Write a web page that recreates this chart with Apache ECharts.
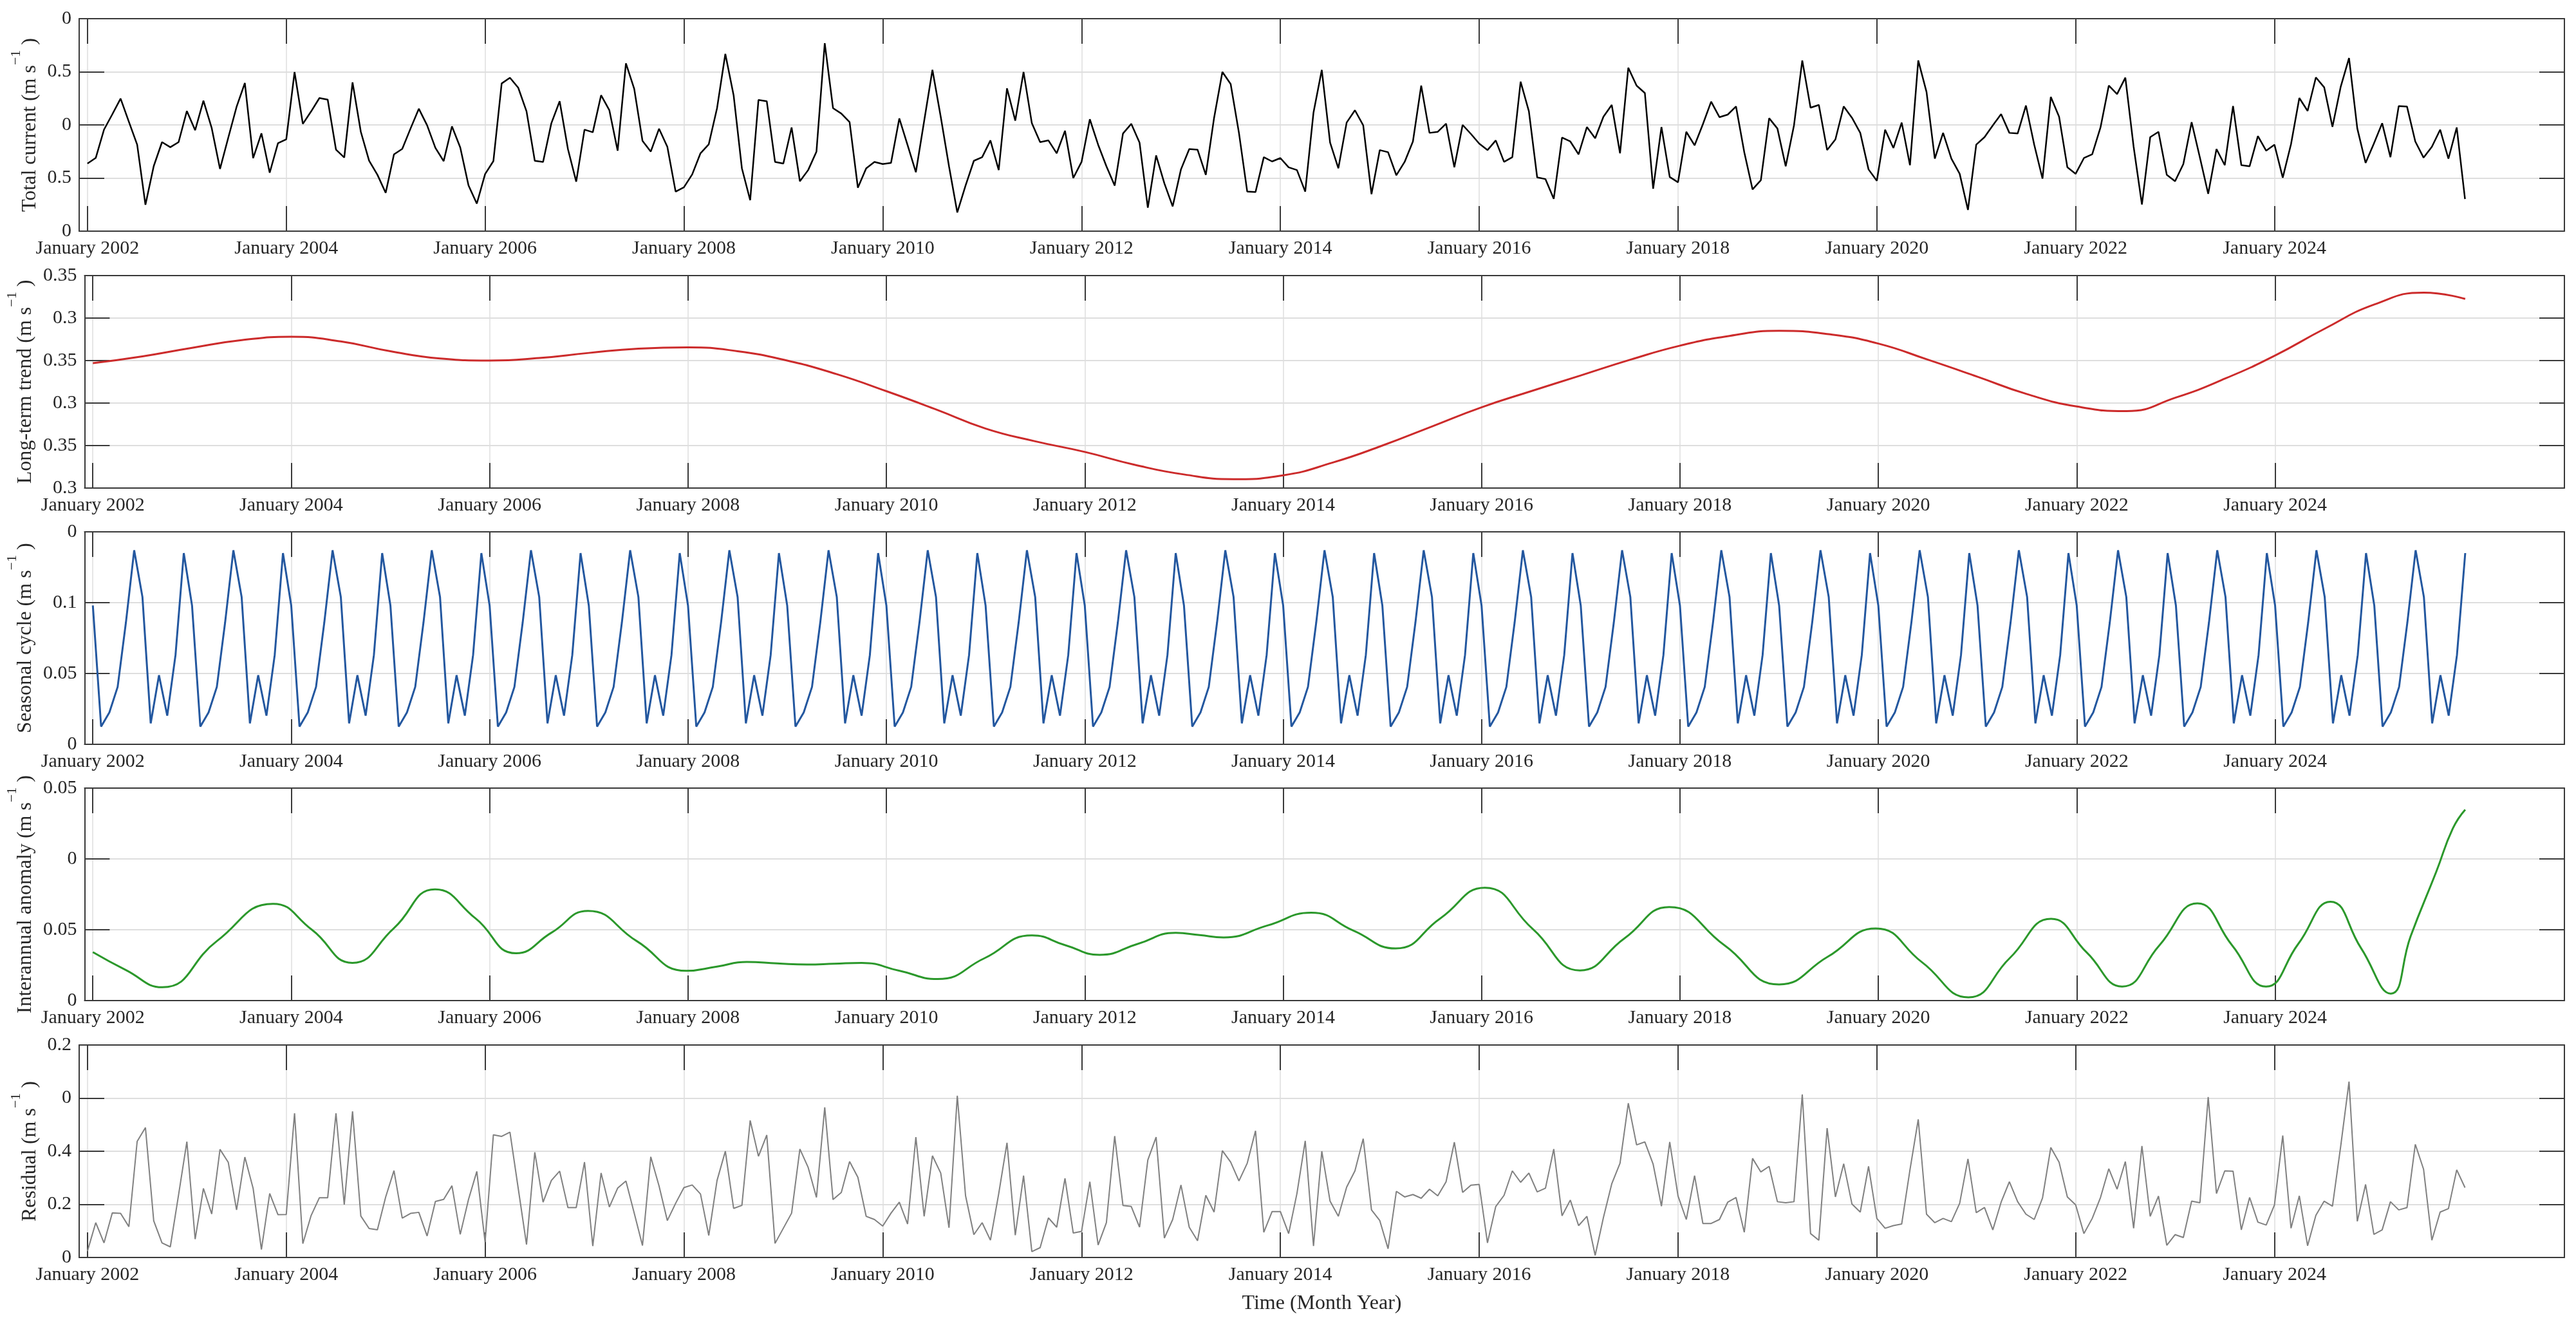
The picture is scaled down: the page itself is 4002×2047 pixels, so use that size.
<!DOCTYPE html>
<html>
<head>
<meta charset="utf-8">
<title>Current decomposition</title>
<script src="https://cdn.jsdelivr.net/npm/echarts@6.0.0/dist/echarts.min.js"></script>
<style>
  html, body { margin: 0; padding: 0; background: #fff; }
  #main { width: 4002px; height: 2047px; }
</style>
</head>
<body>
<div id="main"></div>
<script>
// x is a month index: 0 = January 2002, 287 = December 2025
var xTickMonths = [0, 24, 48, 72, 96, 120, 144, 168, 192, 216, 240, 264];
var xTickLabels = ['January 2002', 'January 2004', 'January 2006', 'January 2008', 'January 2010', 'January 2012',
                   'January 2014', 'January 2016', 'January 2018', 'January 2020', 'January 2022', 'January 2024'];

// y tick labels, bottom to top, as printed on the figure
var totalTicks = ['0', '0.5', '0', '0.5', '0'];
var trendTicks = ['0.3', '0.35', '0.3', '0.35', '0.3', '0.35'];
var seasonTicks = ['0', '0.05', '0.1', '0'];
var anomTicks = ['0', '0.05', '0', '0.05'];
var residTicks = ['0', '0.2', '0.4', '0', '0.2'];

// total current, monthly
var totalCurrent = [
  -0.364, -0.311, -0.044, 0.10, 0.248, 0.03, -0.186, -0.752, -0.388, -0.162, -0.21, -0.162,
  0.131, -0.05, 0.228, -0.03, -0.414, -0.12, 0.17, 0.394, -0.313, -0.079, -0.45, -0.172,
  -0.135, 0.497, 0.01, 0.127, 0.253, 0.238, -0.232, -0.307, 0.40, -0.065, -0.337, -0.469,
  -0.64, -0.277, -0.226, -0.034, 0.152, -0.004, -0.216, -0.341, -0.014, -0.212, -0.57, -0.741,
  -0.463, -0.341, 0.39, 0.444, 0.35, 0.128, -0.338, -0.348, 0.016, 0.223, -0.227, -0.534,
  -0.045, -0.069, 0.279, 0.138, -0.243, 0.579, 0.34, -0.15, -0.251, -0.036, -0.206, -0.628,
  -0.587, -0.466, -0.267, -0.182, 0.158, 0.668, 0.279, -0.409, -0.709, 0.235, 0.223, -0.348,
  -0.364, -0.024, -0.53, -0.425, -0.251, 0.769, 0.158, 0.107, 0.026, -0.591, -0.409, -0.348,
  -0.368, -0.358, 0.061, -0.19, -0.445, 0.036, 0.518, 0.077, -0.389, -0.824, -0.571, -0.338,
  -0.304, -0.146, -0.425, 0.344, 0.04, 0.498, 0.016, -0.162, -0.146, -0.267, -0.055, -0.5,
  -0.348, 0.053, -0.186, -0.389, -0.571, -0.081, 0.01, -0.166, -0.779, -0.287, -0.551, -0.767,
  -0.419, -0.227, -0.233, -0.47, 0.067, 0.498, 0.385, -0.075, -0.628, -0.632, -0.304, -0.344,
  -0.312, -0.399, -0.425, -0.628, 0.117, 0.518, -0.166, -0.408, 0.022, 0.138, -0.004, -0.652,
  -0.237, -0.257, -0.474, -0.348, -0.156, 0.37, -0.075, -0.065, 0.012, -0.399, 0, -0.085,
  -0.176, -0.237, -0.146, -0.348, -0.304, 0.407, 0.128, -0.494, -0.51, -0.696, -0.119, -0.156,
  -0.277, -0.02, -0.126, 0.077, 0.188, -0.267, 0.538, 0.37, 0.3, -0.601, -0.02, -0.49,
  -0.54, -0.065, -0.192, 0.006, 0.219, 0.073, 0.097, 0.174, -0.257, -0.607, -0.52, 0.063,
  -0.034, -0.389, -0.004, 0.607, 0.162, 0.188, -0.237, -0.136, 0.174, 0.067, -0.075, -0.419,
  -0.526, -0.045, -0.217, 0.022, -0.379, 0.607, 0.31, -0.318, -0.075, -0.318, -0.46, -0.8,
  -0.186, -0.115, -0.004, 0.101, -0.075, -0.081, 0.182, -0.186, -0.506, 0.263, 0.077, -0.399,
  -0.46, -0.312, -0.277, -0.024, 0.37, 0.29, 0.445, -0.206, -0.749, -0.115, -0.065, -0.47,
  -0.53, -0.368, 0.026, -0.308, -0.648, -0.227, -0.379, 0.178, -0.379, -0.389, -0.105, -0.243,
  -0.186, -0.496, -0.18, 0.253, 0.132, 0.447, 0.354, -0.018, 0.36, 0.63, -0.034, -0.358,
  -0.176, 0.016, -0.304, 0.178, 0.172, -0.156, -0.308, -0.206, -0.045, -0.318, -0.024, -0.698
];

// long-term trend, read every six months
var trendMonths = [0, 6, 12, 18, 24, 30, 36, 42, 48, 54, 60, 66, 72, 78, 84, 90, 96, 102, 108, 114,
                   120, 126, 132, 138, 144, 150, 156, 162, 168, 174, 180, 186, 192, 198, 204, 210,
                   216, 222, 228, 234, 240, 246, 252, 258, 264, 270, 276, 282, 287];
var trendValues = [0.3294, 0.3310, 0.3330, 0.3348, 0.3356, 0.3345, 0.3322, 0.3305, 0.3300, 0.3306,
                   0.3318, 0.3328, 0.3331, 0.3322, 0.3300, 0.3268, 0.3228, 0.3185, 0.3140, 0.3110,
                   0.3085, 0.3055, 0.3032, 0.3021, 0.3030, 0.3060, 0.3100, 0.3145, 0.3190, 0.3228,
                   0.3265, 0.3302, 0.3335, 0.3358, 0.3370, 0.3362, 0.3340, 0.3302, 0.3262, 0.3221,
                   0.3192, 0.3181, 0.3213, 0.3258, 0.3312, 0.3375, 0.3432, 0.3460, 0.3445];

// seasonal cycle: the same twelve monthly values every year
var seasonMonthly = [0.098, 0.0125, 0.0225, 0.0405, 0.086, 0.137, 0.104, 0.0148, 0.0488, 0.0202, 0.063, 0.135];
var seasonYears = 24;

// interannual anomaly, read at turning points and between them
var anomMonths = [0, 4, 8.4, 15, 21.8, 26.5, 31.4, 36.4, 41.4, 46.3, 51.2, 55.5, 59.9, 65.8, 71.8, 75.5,
                  79.1, 82.8, 86.4, 89.7, 93, 97.6, 102.2, 107.9, 113.6, 117.7, 121.8, 126.4, 131, 133.9,
                  136.8, 142.1, 147.4, 152.5, 157.6, 163, 168.4, 174.2, 179.9, 185.3, 190.7, 197.4, 204,
                  209.9, 215.7, 221.3, 226.9, 231.9, 236.9, 241.2, 245.5, 250, 254.6, 258.8, 262.9, 266.8,
                  270.7, 274.4, 278, 280.4, 283.5, 285.5, 287];
var anomValues = [-0.0658, -0.0785, -0.0906, -0.058, -0.0317, -0.050, -0.0734, -0.049, -0.0215, -0.042,
                  -0.0666, -0.052, -0.0367, -0.058, -0.079, -0.076, -0.0727, -0.0738, -0.0746, -0.074,
                  -0.0734, -0.079, -0.0848, -0.070, -0.054, -0.061, -0.0677, -0.060, -0.0522, -0.0538,
                  -0.0554, -0.047, -0.038, -0.0506, -0.0632, -0.042, -0.0203, -0.0495, -0.0787, -0.056,
                  -0.034, -0.061, -0.0886, -0.069, -0.0491, -0.073, -0.0977, -0.070, -0.0423, -0.066,
                  -0.0901, -0.061, -0.0314, -0.061, -0.0901, -0.060, -0.0302, -0.063, -0.0951, -0.0545,
                  -0.009, 0.0215, 0.0348];

// residual, monthly
var residual = [
  0.024, 0.131, 0.055, 0.168, 0.166, 0.116, 0.437, 0.489, 0.138, 0.055, 0.04, 0.236,
  0.436, 0.069, 0.26, 0.164, 0.407, 0.358, 0.179, 0.378, 0.26, 0.03, 0.241, 0.161,
  0.162, 0.543, 0.052, 0.158, 0.225, 0.225, 0.543, 0.199, 0.55, 0.156, 0.109, 0.104,
  0.228, 0.327, 0.148, 0.166, 0.17, 0.081, 0.211, 0.219, 0.27, 0.087, 0.219, 0.324,
  0.058, 0.462, 0.456, 0.472, 0.26, 0.049, 0.396, 0.208, 0.29, 0.325, 0.188, 0.188,
  0.359, 0.043, 0.318, 0.19, 0.261, 0.288, 0.167, 0.045, 0.379, 0.269, 0.139, 0.204,
  0.263, 0.273, 0.239, 0.083, 0.29, 0.4, 0.185, 0.196, 0.516, 0.381, 0.461, 0.053,
  0.11, 0.167, 0.408, 0.339, 0.226, 0.565, 0.218, 0.245, 0.361, 0.302, 0.155, 0.143,
  0.118, 0.167, 0.208, 0.126, 0.453, 0.155, 0.383, 0.318, 0.112, 0.609, 0.232, 0.086,
  0.131, 0.065, 0.24, 0.432, 0.084, 0.308, 0.022, 0.037, 0.149, 0.114, 0.298, 0.092,
  0.098, 0.285, 0.047, 0.131, 0.457, 0.196, 0.192, 0.114, 0.367, 0.453, 0.073, 0.143,
  0.273, 0.114, 0.063, 0.234, 0.171, 0.402, 0.359, 0.288, 0.355, 0.477, 0.095, 0.173,
  0.173, 0.09, 0.241, 0.439, 0.043, 0.4, 0.212, 0.155, 0.265, 0.326, 0.447, 0.179,
  0.139, 0.033, 0.249, 0.228, 0.237, 0.223, 0.257, 0.232, 0.285, 0.434, 0.245, 0.272,
  0.275, 0.055, 0.192, 0.234, 0.326, 0.283, 0.318, 0.247, 0.261, 0.408, 0.157, 0.216,
  0.12, 0.155, 0.008, 0.151, 0.277, 0.355, 0.581, 0.424, 0.435, 0.351, 0.193, 0.435,
  0.232, 0.143, 0.308, 0.128, 0.128, 0.143, 0.208, 0.226, 0.095, 0.373, 0.322, 0.343,
  0.21, 0.206, 0.21, 0.614, 0.09, 0.065, 0.487, 0.228, 0.353, 0.201, 0.171, 0.343,
  0.147, 0.11, 0.12, 0.126, 0.33, 0.52, 0.163, 0.131, 0.147, 0.135, 0.204, 0.371,
  0.169, 0.188, 0.104, 0.208, 0.285, 0.21, 0.163, 0.143, 0.224, 0.414, 0.359, 0.228,
  0.198, 0.09, 0.147, 0.226, 0.334, 0.257, 0.361, 0.11, 0.42, 0.155, 0.231, 0.046,
  0.086, 0.075, 0.212, 0.206, 0.604, 0.241, 0.326, 0.325, 0.104, 0.226, 0.133, 0.122,
  0.198, 0.459, 0.11, 0.232, 0.044, 0.159, 0.212, 0.193, 0.42, 0.662, 0.136, 0.275,
  0.087, 0.104, 0.21, 0.179, 0.188, 0.426, 0.332, 0.065, 0.171, 0.184, 0.33, 0.263
];

var FONT = "'Liberation Serif', 'Times New Roman', serif";
var INK = '#262626';
var BOX = '#3a3a3a';
var GRIDC = '#dedede';

function monthly(arr) {
  return arr.map(function (v, i) { return [i, v]; });
}
function pairs(xs, ys) {
  return xs.map(function (x, i) { return [x, ys[i]]; });
}
var seasonData = [];
for (var y = 0; y < seasonYears; y++) {
  for (var m = 0; m < 12; m++) seasonData.push([y * 12 + m, seasonMonthly[m]]);
}

var panels = [
  { title: 'Total current (m s', ticks: totalTicks, min: -1, max: 1, step: 0.5, gap: 44,
    data: monthly(totalCurrent), color: '#000000', width: 2.5, smooth: false },
  { title: 'Long-term trend (m s', ticks: trendTicks, min: 0.30, max: 0.35, step: 0.01, gap: 59,
    data: pairs(trendMonths, trendValues), color: '#cc2b2b', width: 3, smooth: true },
  { title: 'Seasonal cycle (m s', ticks: seasonTicks, min: 0, max: 0.15, step: 0.05, gap: 59,
    data: seasonData, color: '#23579f', width: 3, smooth: false },
  { title: 'Interannual anomaly (m s', ticks: anomTicks, min: -0.1, max: 0.05, step: 0.05, gap: 59,
    data: pairs(anomMonths, anomValues), color: '#2b982b', width: 3, smooth: true },
  { title: 'Residual (m s', ticks: residTicks, min: 0, max: 0.8, step: 0.2, gap: 44,
    data: monthly(residual), color: '#808080', width: 2, smooth: false }
];
var tops = [29, 428, 826, 1224, 1623];

var grids = [], xAxes = [], yAxes = [], series = [];
panels.forEach(function (p, i) {
  grids.push({ left: 123, right: 18, top: tops[i], height: 330 });
  var tickStyle = { color: BOX, width: 2 };
  var lineStyle = { color: BOX, width: 2 };
  var last = i === panels.length - 1;

  xAxes.push({
    type: 'value', gridIndex: i, position: 'bottom', min: -1, max: 299,
    axisLine: { show: true, onZero: false, lineStyle: lineStyle },
    axisTick: { show: true, inside: true, length: 39, customValues: xTickMonths, lineStyle: tickStyle },
    axisLabel: {
      show: true, customValues: xTickMonths, margin: 12, fontSize: 30, color: INK, fontFamily: FONT,
      formatter: function (v) { return xTickLabels[xTickMonths.indexOf(v)]; }
    },
    splitLine: { show: true, lineStyle: { color: GRIDC, width: 1.5 } },
    name: last ? 'Time (Month Year)' : '',
    nameLocation: 'middle', nameGap: 56,
    nameTextStyle: { fontSize: 32, color: INK, fontFamily: FONT }
  });
  xAxes.push({
    type: 'value', gridIndex: i, position: 'top', min: -1, max: 299,
    axisLine: { show: true, onZero: false, lineStyle: lineStyle },
    axisTick: { show: true, inside: true, length: 39, customValues: xTickMonths, lineStyle: tickStyle },
    axisLabel: { show: false },
    splitLine: { show: false }
  });

  var labels = p.ticks;
  yAxes.push({
    type: 'value', gridIndex: i, position: 'left', min: p.min, max: p.max, interval: p.step,
    axisLine: { show: true, onZero: false, lineStyle: lineStyle },
    axisTick: { show: true, inside: true, length: 39, lineStyle: tickStyle },
    axisLabel: {
      show: true, margin: 12, fontSize: 30, color: INK, fontFamily: FONT,
      formatter: function (v) { return labels[Math.round((v - p.min) / p.step)]; }
    },
    splitLine: { show: true, lineStyle: { color: GRIDC, width: 2 } },
    name: '{a|' + p.title + '}{b|\u22121}{a| )}',
    nameLocation: 'middle', nameGap: p.gap,
    nameTextStyle: {
      rich: {
        a: { fontSize: 32, color: INK, fontFamily: FONT, lineHeight: 48, verticalAlign: 'bottom' },
        b: { fontSize: 22, color: INK, fontFamily: FONT, lineHeight: 22, verticalAlign: 'top' }
      }
    }
  });
  yAxes.push({
    type: 'value', gridIndex: i, position: 'right', min: p.min, max: p.max, interval: p.step,
    axisLine: { show: true, onZero: false, lineStyle: lineStyle },
    axisTick: { show: true, inside: true, length: 39, lineStyle: tickStyle },
    axisLabel: { show: false },
    splitLine: { show: false }
  });

  series.push({
    type: 'line', xAxisIndex: i * 2, yAxisIndex: i * 2, data: p.data,
    showSymbol: false, symbol: 'none', smooth: p.smooth, silent: true,
    lineStyle: { color: p.color, width: p.width }
  });
});

var chart = echarts.init(document.getElementById('main'), null, { width: 4002, height: 2047 });
chart.setOption({
  animation: false,
  backgroundColor: '#ffffff',
  grid: grids,
  xAxis: xAxes,
  yAxis: yAxes,
  series: series
});
</script>
</body>
</html>
